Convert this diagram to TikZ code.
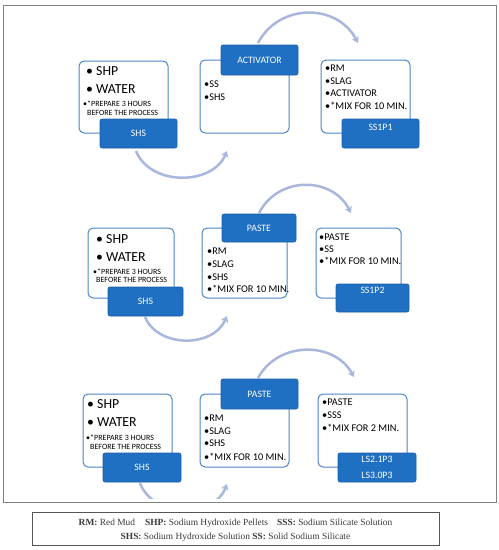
\documentclass[tikz,border=0pt]{standalone}
\usepackage{fontspec}
\setmainfont{Carlito}
\newfontfamily\legendfont{Liberation Serif}
\usetikzlibrary{arrows.meta}
\definecolor{bfill}{HTML}{1F6FC2}
\definecolor{bline}{HTML}{4A86C8}
\definecolor{arrowc}{HTML}{A9B7DD}
\definecolor{framec}{HTML}{808080}
\definecolor{legc}{HTML}{555555}
\definecolor{legtext}{HTML}{3A3A3A}
\tikzset{
  wbox/.style={draw=bline, line width=1pt, rounded corners=5pt, fill=white, inner sep=0pt},
  bbox/.style={draw=bfill!85!black, line width=0.6pt, fill=bfill, rounded corners=2pt, inner sep=0pt, text=white, font=\fontsize{9.8}{11}\selectfont},
  big/.style={anchor=west, inner sep=0pt, font=\fontsize{13.8}{15}\selectfont},
  item/.style={anchor=west, inner sep=0pt, font=\fontsize{10.3}{11}\selectfont},
  note/.style={anchor=west, inner sep=0pt, font=\fontsize{8}{9}\selectfont},
  lbl/.style={inner sep=0pt, text=white, font=\fontsize{9.8}{11}\selectfont},
  flow/.style={draw=arrowc, line width=2.5pt, -{Stealth[length=6pt,width=7.5pt,inset=1.5pt]}},
  legline/.style={inner sep=0pt, text=legtext, font=\legendfont\fontsize{9.4}{10}\selectfont}
}
\begin{document}
\begin{tikzpicture}[x=1pt,y=-1pt]
\useasboundingbox (0,0) rectangle (499,550);
\fill[white] (0,0) rectangle (499,550);
\node[draw=framec, line width=1pt, minimum width=493pt, minimum height=497pt, inner sep=0pt] (frame) at (249.5,253.5) {};

% arc end points
\coordinate (r1ts) at (258,43);  \coordinate (r1te) at (358,43);
\coordinate (r1bs) at (136,151); \coordinate (r1be) at (227,151);
\coordinate (r2ts) at (259,213); \coordinate (r2te) at (351,213);
\coordinate (r2bs) at (145,317); \coordinate (r2be) at (227,316);
\coordinate (r3ts) at (258,378); \coordinate (r3te) at (354,377);
\coordinate (r3bs) at (140,483); \coordinate (r3be) at (227,484);

\draw[flow] (r1ts) .. controls (279,3) and (337,3) .. (r1te);
\draw[flow] (r1bs) .. controls (150,186) and (212,186) .. (r1be);
\draw[flow] (r2ts) .. controls (278,176) and (332,176) .. (r2te);
\draw[flow] (r2bs) .. controls (158,348) and (213,348) .. (r2be);
\draw[flow] (r3ts) .. controls (278,341) and (334,341) .. (r3te);
\begin{scope}
\clip (0,0) rectangle (499,498);
\draw[flow] (r3bs) .. controls (153,518) and (214,518) .. (r3be);
\end{scope}

% ---- row 1
\node[wbox, minimum width=89pt, minimum height=72pt] (a1) at (123.5,97) {};
\node[wbox, minimum width=89pt, minimum height=73pt] (b1) at (244.5,96.5) {};
\node[wbox, minimum width=89pt, minimum height=73pt] (c1) at (365.5,96.5) {};
\node[bbox, minimum width=77pt, minimum height=29pt] (shs1) at (138.5,133.5) {SHS};
\node[bbox, minimum width=77pt, minimum height=30pt] (act1) at (259.5,60) {ACTIVATOR};
\node[bbox, minimum width=77pt, minimum height=29pt] (p1) at (380.5,133.5) {};
\node[lbl] (p1t) at (380.5,127) {SS1P1};
\node[big] (a1l1) at (86,71) {• SHP};
\node[big] (a1l2) at (86,89) {• WATER};
\node[note] (a1l3) at (83,104) {•*PREPARE 3 HOURS};
\node[note] (a1l4) at (87,113) {BEFORE THE PROCESS};
\node[item] (b1l1) at (204,84) {•SS};
\node[item] (b1l2) at (204,97) {•SHS};
\node[item] (c1l1) at (325,68) {•RM};
\node[item] (c1l2) at (325,81) {•SLAG};
\node[item] (c1l3) at (325,93) {•ACTIVATOR};
\node[item] (c1l4) at (325,106) {•*MIX FOR 10 MIN.};

% ---- row 2
\node[wbox, minimum width=86pt, minimum height=70pt] (a2) at (131,263) {};
\node[wbox, minimum width=85pt, minimum height=70pt] (b2) at (244.5,263) {};
\node[wbox, minimum width=85pt, minimum height=70pt] (c2) at (358.5,263) {};
\node[bbox, minimum width=75pt, minimum height=29pt] (shs2) at (145.5,301.5) {SHS};
\node[bbox, minimum width=74pt, minimum height=28pt] (paste2) at (259,228) {PASTE};
\node[bbox, minimum width=73pt, minimum height=28pt] (p2) at (372.5,298) {};
\node[lbl] (p2t) at (372.5,290) {SS1P2};
\node[big] (a2l1) at (96,239) {• SHP};
\node[big] (a2l2) at (96,257) {• WATER};
\node[note] (a2l3) at (93,272) {•*PREPARE 3 HOURS};
\node[note] (a2l4) at (96,280) {BEFORE THE PROCESS};
\node[item] (b2l1) at (207,251) {•RM};
\node[item] (b2l2) at (207,264) {•SLAG};
\node[item] (b2l3) at (207,277) {•SHS};
\node[item] (b2l4) at (207,289) {•*MIX FOR 10 MIN.};
\node[item] (c2l1) at (319,237) {•PASTE};
\node[item] (c2l2) at (319,249) {•SS};
\node[item] (c2l3) at (319,261) {•*MIX FOR 10 MIN.};

% ---- row 3
\node[wbox, minimum width=89pt, minimum height=73pt] (a3) at (127.5,430.5) {};
\node[wbox, minimum width=89pt, minimum height=73pt] (b3) at (244.5,430.5) {};
\node[wbox, minimum width=89pt, minimum height=73pt] (c3) at (362.5,430.5) {};
\node[bbox, minimum width=78pt, minimum height=29pt] (shs3) at (142,467.5) {SHS};
\node[bbox, minimum width=77pt, minimum height=30pt] (paste3) at (259.5,394) {PASTE};
\node[bbox, minimum width=78pt, minimum height=29pt] (p3) at (377,467.5) {};
\node[lbl] (p3t1) at (377,459) {LS2.1P3};
\node[lbl] (p3t2) at (377,475) {LS3.0P3};
\node[big] (a3l1) at (87,404) {• SHP};
\node[big] (a3l2) at (87,422) {• WATER};
\node[note] (a3l3) at (86,438) {•*PREPARE 3 HOURS};
\node[note] (a3l4) at (90,447) {BEFORE THE PROCESS};
\node[item] (b3l1) at (204,418) {•RM};
\node[item] (b3l2) at (204,431) {•SLAG};
\node[item] (b3l3) at (204,443) {•SHS};
\node[item] (b3l4) at (204,457) {•*MIX FOR 10 MIN.};
\node[item] (c3l1) at (322,402) {•PASTE};
\node[item] (c3l2) at (322,415) {•SSS};
\node[item] (c3l3) at (322,428) {•*MIX FOR 2 MIN.};

% ---- legend
\node[draw=legc, line width=1pt, minimum width=407pt, minimum height=33pt, inner sep=0pt] (legend) at (235.5,528.5) {};
\node[legline] (leg1) at (235.5,523) {\textbf{RM:} Red Mud\hspace{10pt}\textbf{SHP:} Sodium Hydroxide Pellets\hspace{9pt}\textbf{SSS:} Sodium Silicate Solution};
\node[legline] (leg2) at (235.5,537) {\textbf{SHS:} Sodium Hydroxide Solution \textbf{SS:} Solid Sodium Silicate};
\end{tikzpicture}
\end{document}
